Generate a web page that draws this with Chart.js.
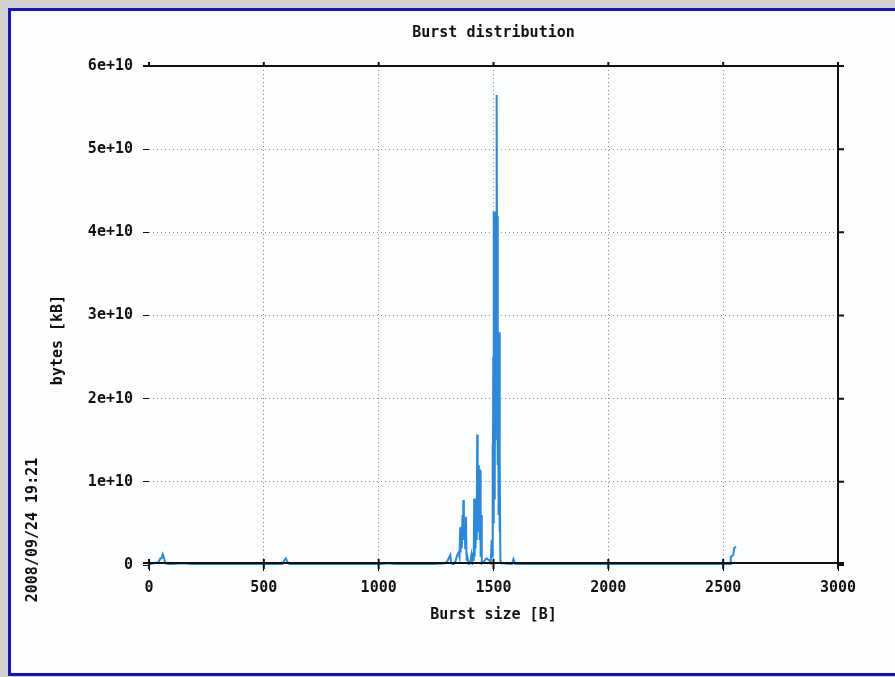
<!DOCTYPE html>
<html>
<head>
<meta charset="utf-8">
<script src="https://cdn.jsdelivr.net/npm/chart.js"></script>
<style>
  html, body { margin: 0; padding: 0; background: #cfcfcf; }
  #frame {
    position: absolute; left: 8px; top: 8px; width: 900px; height: 662px;
    border: 3px solid #1414c8; background: #fdfeff;
  }
  #wrap { position: absolute; left: 0; top: 0; width: 895px; height: 677px; }
</style>
</head>
<body>
<div id="frame"></div>
<div id="wrap"><canvas id="myChart" width="895" height="677"></canvas></div>
<script>
const chartTitle = 'Burst distribution';
const xTitle = 'Burst size [B]';
const yTitle = 'bytes [kB]';
const stamp = '2008/09/24 19:21';

const xTicks = [0, 500, 1000, 1500, 2000, 2500, 3000];
const yTicks = [0, 1e10, 2e10, 3e10, 4e10, 5e10, 6e10];

// burst size (B) and bytes
const burstSizes = [
  0, 20, 40, 50, 55, 60, 64, 68, 72, 90, 150, 200, 300, 400, 480,
  580, 590, 596, 602, 612, 700, 800, 900, 1000, 1037, 1100, 1200,
  1290, 1300, 1308, 1312, 1316, 1325, 1335, 1342, 1348, 1352, 1355, 1357,
  1360, 1362, 1365, 1367, 1369, 1371, 1374, 1377, 1380, 1383, 1386, 1392,
  1400, 1404, 1408, 1412, 1414, 1416, 1418, 1420, 1422, 1425, 1427, 1429,
  1431, 1434, 1436, 1438, 1440, 1442, 1444, 1447, 1449, 1460, 1470, 1480,
  1488, 1492, 1494, 1496, 1497, 1499, 1500, 1502, 1503, 1505, 1506, 1508, 1509,
  1511, 1512, 1514, 1515, 1516, 1518, 1519, 1521, 1522, 1524, 1526, 1528,
  1530, 1532, 1540, 1580, 1587, 1595, 1700, 1900, 2000, 2300, 2500, 2530,
  2533, 2544, 2548, 2556
];
const byteValues = [
  0.01e10, 0.02e10, 0.03e10, 0.08e10, 0.08e10, 0.13e10, 0.1e10, 0.05e10, 0.02e10, 0.01e10, 0.02e10, 0.005e10, 0.005e10, 0.003e10, 0.003e10,
  0.01e10, 0.06e10, 0.08e10, 0.04e10, 0.01e10, 0.004e10, 0.003e10, 0.004e10, 0.005e10, 0.02e10, 0.004e10, 0.005e10,
  0.02e10, 0.05e10, 0.1e10, 0.12e10, 0.02e10, 0.01e10, 0.05e10, 0.12e10, 0.15e10, 0.1e10, 0.45e10, 0.15e10,
  0.46e10, 0.2e10, 0.6e10, 0.3e10, 0.78e10, 0.3e10, 0.5e10, 0.2e10, 0.58e10, 0.05e10, 0.1e10, 0.01e10,
  0.05e10, 0.12e10, 0.03e10, 0.15e10, 0.05e10, 0.8e10, 0.1e10, 0.78e10, 0.2e10, 0.8e10, 0.3e10, 1.57e10,
  0.5e10, 1.2e10, 0.4e10, 1.15e10, 0.3e10, 1.14e10, 0.1e10, 0.6e10, 0.02e10, 0.05e10, 0.08e10, 0.06e10,
  0.02e10, 0.3e10, 0.1e10, 1.45e10, 0.3e10, 2.5e10, 0.5e10, 4.25e10, 0.8e10, 4.2e10, 1.0e10, 4.25e10, 1.5e10,
  4.1e10, 2.0e10, 4.25e10, 5.65e10, 3.0e10, 4.2e10, 1.2e10, 2.8e10, 0.6e10, 2.8e10, 0.4e10, 1.2e10,
  0.05e10, 0.02e10, 0.02e10, 0.01e10, 0.07e10, 0.01e10, 0.005e10, 0.004e10, 0.003e10, 0.004e10, 0.005e10, 0.005e10,
  0.1e10, 0.12e10, 0.2e10, 0.22e10
];

const FONT = { family: 'DejaVu Sans Mono', size: 15, weight: 'bold' };
const fontStr = 'bold 15px "DejaVu Sans Mono"';

// texte extra: titre, etiquettes pivotees, cadre du graphique
const extras = {
  id: 'extras',
  afterDatasetsDraw(chart) {
    const { ctx, chartArea: a, scales } = chart;
    ctx.save();
    ctx.strokeStyle = '#111';
    ctx.lineWidth = 2;
    ctx.beginPath();
    ctx.moveTo(a.left - 6, a.top); ctx.lineTo(a.right, a.top);
    ctx.lineTo(a.right, a.bottom);
    ctx.moveTo(a.left - 6, a.bottom - 2); ctx.lineTo(a.right + 6, a.bottom - 2);
    // petites marques sur le haut et la droite
    xTicks.forEach(v => {
      const px = scales.x.getPixelForValue(v);
      ctx.moveTo(px, a.top - 4); ctx.lineTo(px, a.top + 1);
      ctx.moveTo(px, a.bottom - 6); ctx.lineTo(px, a.bottom + 4);
    });
    yTicks.forEach(v => {
      const py = scales.y.getPixelForValue(v);
      ctx.moveTo(a.right - 1, py); ctx.lineTo(a.right + 6, py);
    });
    ctx.stroke();

    ctx.fillStyle = '#111';
    ctx.font = fontStr;
    ctx.textAlign = 'center';
    ctx.textBaseline = 'middle';
    const cx = (a.left + a.right) / 2;
    ctx.fillText(chartTitle, cx, 33);
    ctx.fillText(xTitle, cx, 615);

    ctx.save();
    ctx.translate(58, 340);
    ctx.rotate(-Math.PI / 2);
    ctx.fillText(yTitle, 0, 0);
    ctx.restore();

    ctx.save();
    ctx.translate(33, 530);
    ctx.rotate(-Math.PI / 2);
    ctx.fillText(stamp, 0, 0);
    ctx.restore();
    ctx.restore();
  }
};

const ctx = document.getElementById('myChart');

new Chart(ctx, {
  type: 'line',
  data: {
    datasets: [{
      data: burstSizes.map((b, i) => ({ x: b, y: byteValues[i] })),
      borderColor: '#2a88de',
      borderWidth: 2,
      pointRadius: 0,
      tension: 0,
      fill: false
    }]
  },
  options: {
    responsive: false,
    animation: false,
    layout: { padding: { left: 0, right: 57, top: 66, bottom: 0 } },
    plugins: { legend: { display: false }, tooltip: { enabled: false }, title: { display: false } },
    scales: {
      x: {
        type: 'linear',
        min: 0, max: 3000,
        afterBuildTicks: s => { s.ticks = xTicks.map(v => ({ value: v })); },
        afterFit: s => { s.height = 112; },
        ticks: { color: '#111', font: FONT, padding: 8, maxRotation: 0, callback: v => String(v) },
        grid: {
          color: c => (c.tick && c.tick.value === 0) ? 'rgba(0,0,0,0)' : '#8a8a8a',
          tickColor: '#111',
          tickLength: 6,
          tickBorderDash: [],
          lineWidth: 1
        },
        border: { display: false, dash: [1, 3] }
      },
      y: {
        min: 0, max: 6e10,
        afterBuildTicks: s => { s.ticks = yTicks.map(v => ({ value: v })); },
        afterFit: s => { s.width = 149; },
        ticks: {
          color: '#111', font: FONT, padding: 10,
          callback: v => v === 0 ? '0' : v.toExponential(0)
        },
        grid: {
          color: c => (c.tick && c.tick.value === 0) ? 'rgba(0,0,0,0)' : '#8a8a8a',
          tickColor: '#111',
          tickLength: 6,
          tickBorderDash: [],
          lineWidth: 1
        },
        border: { display: false, dash: [1, 3] }
      }
    }
  },
  plugins: [extras]
});
</script>
</body>
</html>
